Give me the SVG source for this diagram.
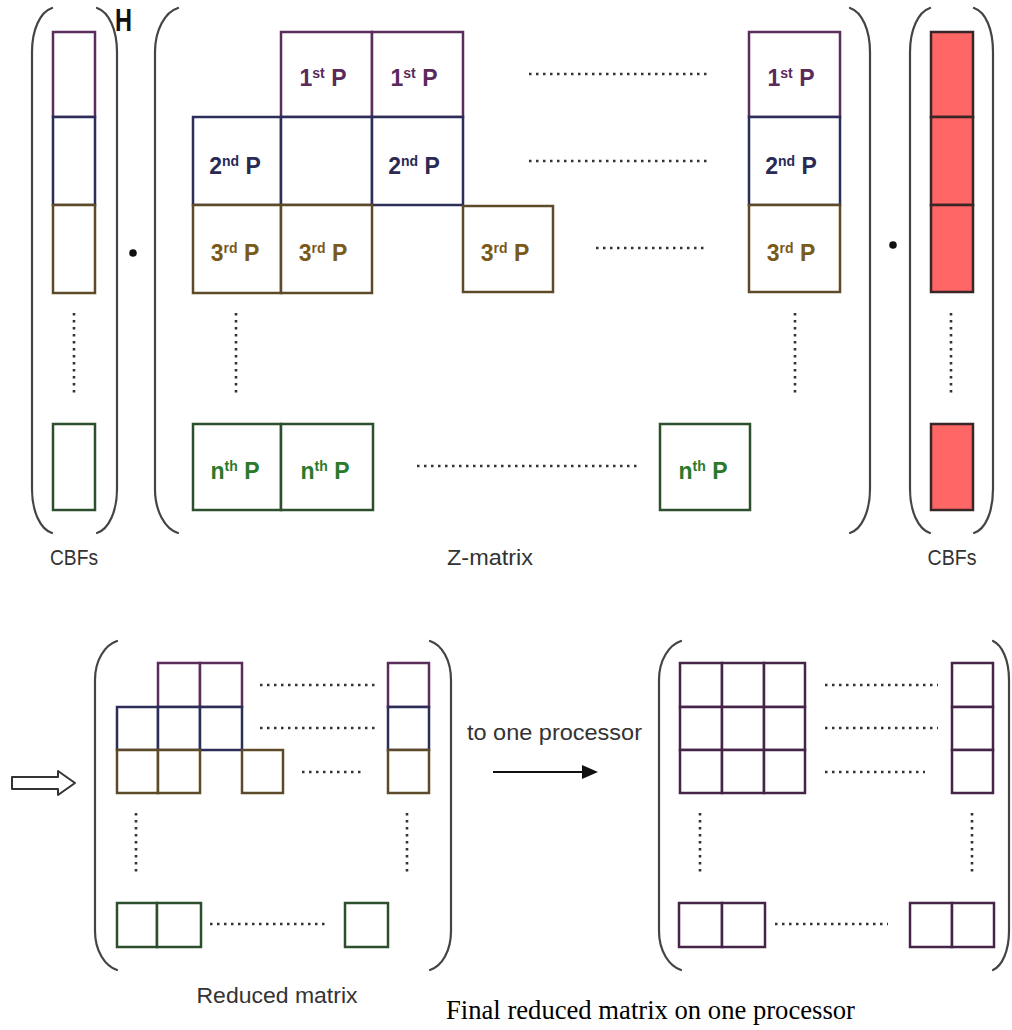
<svg xmlns="http://www.w3.org/2000/svg" width="1012" height="1030" viewBox="0 0 1012 1030">
<defs>
<style>
.paren{fill:none;stroke:#444;stroke-width:2.2;stroke-linecap:round}
.c{fill:#fff;stroke-width:2.5}
.p1{stroke:#5a2d5a}
.p2{stroke:#2d2d5a}
.p3{stroke:#5c4a28}
.pn{stroke:#2d4f2d}
.pf{stroke:#452447}
.red{fill:#ff6666;stroke:#3a2626;stroke-width:2.5}
.dots{fill:none;stroke:#333;stroke-width:2.6;stroke-dasharray:2.5 4.5}
.lbl{font-family:"Liberation Sans",Arial,sans-serif;font-size:22px;fill:#333}
.ct{font-family:"Liberation Sans",Arial,sans-serif;font-size:23px;font-weight:bold;text-anchor:middle}
.t1{fill:#5a2a5a}.t2{fill:#2a2a55}.t3{fill:#7a5a1a}.tn{fill:#2a7a2a}
.sup{font-size:14px}
</style>
</defs>
<rect width="1012" height="1030" fill="#fff"/>

<g id="cbf-left">
<path class="paren" d="M52,8 C40,12 32,30 32,52 L32,489 C32,511 40,529 52,533"/>
<path class="paren" d="M97,8 C109,12 117,30 117,52 L117,489 C117,511 109,529 97,533"/>
<rect class="c p1" x="53" y="32" width="42" height="85"/>
<rect class="c p2" x="53" y="117" width="42" height="88"/>
<rect class="c p3" x="53" y="205" width="42" height="88"/>
<rect class="c pn" x="53" y="424" width="42" height="86"/>
<line class="dots" x1="74" y1="313" x2="74" y2="396"/>
<text class="lbl" x="74" y="565" text-anchor="middle" textLength="48" lengthAdjust="spacingAndGlyphs">CBFs</text>
</g>

<g id="h-label">
<text x="115" y="31" font-family="'Liberation Sans',Arial,sans-serif" font-size="31" font-weight="bold" fill="#111" textLength="17" lengthAdjust="spacingAndGlyphs">H</text>
</g>
<g id="dot-1"><circle cx="133" cy="253" r="3.8" fill="#111"/></g>

<g id="z-matrix">
<path class="paren" d="M178,8 C165,12 155,30 155,52 L155,489 C155,511 165,529 178,533"/>
<path class="paren" d="M850,8 C862,12 870,30 870,52 L870,489 C870,511 862,529 850,533"/>
<rect class="c p1" x="281" y="32" width="91" height="85"/>
<rect class="c p1" x="372" y="32" width="91" height="85"/>
<rect class="c p1" x="749" y="32" width="91" height="85"/>
<rect class="c p2" x="193" y="117" width="88" height="88"/>
<rect class="c p2" x="281" y="117" width="91" height="88"/>
<rect class="c p2" x="372" y="117" width="91" height="88"/>
<rect class="c p2" x="749" y="117" width="91" height="88"/>
<rect class="c p3" x="193" y="205" width="88" height="88"/>
<rect class="c p3" x="281" y="205" width="91" height="88"/>
<rect class="c p3" x="463" y="206" width="90" height="86"/>
<rect class="c p3" x="749" y="205" width="91" height="87"/>
<rect class="c pn" x="193" y="424" width="88" height="86"/>
<rect class="c pn" x="281" y="424" width="92" height="86"/>
<rect class="c pn" x="660" y="424" width="90" height="86"/>
<text class="ct t1" x="323" y="86">1<tspan class="sup" dy="-8">st</tspan><tspan dy="8"> P</tspan></text>
<text class="ct t1" x="414" y="86">1<tspan class="sup" dy="-8">st</tspan><tspan dy="8"> P</tspan></text>
<text class="ct t1" x="791" y="86">1<tspan class="sup" dy="-8">st</tspan><tspan dy="8"> P</tspan></text>
<text class="ct t2" x="235" y="174">2<tspan class="sup" dy="-8">nd</tspan><tspan dy="8"> P</tspan></text>
<text class="ct t2" x="414" y="174">2<tspan class="sup" dy="-8">nd</tspan><tspan dy="8"> P</tspan></text>
<text class="ct t2" x="791" y="174">2<tspan class="sup" dy="-8">nd</tspan><tspan dy="8"> P</tspan></text>
<text class="ct t3" x="235" y="261">3<tspan class="sup" dy="-8">rd</tspan><tspan dy="8"> P</tspan></text>
<text class="ct t3" x="323" y="261">3<tspan class="sup" dy="-8">rd</tspan><tspan dy="8"> P</tspan></text>
<text class="ct t3" x="505" y="261">3<tspan class="sup" dy="-8">rd</tspan><tspan dy="8"> P</tspan></text>
<text class="ct t3" x="791" y="261">3<tspan class="sup" dy="-8">rd</tspan><tspan dy="8"> P</tspan></text>
<text class="ct tn" x="235" y="479">n<tspan class="sup" dy="-8">th</tspan><tspan dy="8"> P</tspan></text>
<text class="ct tn" x="325" y="479">n<tspan class="sup" dy="-8">th</tspan><tspan dy="8"> P</tspan></text>
<text class="ct tn" x="703" y="479">n<tspan class="sup" dy="-8">th</tspan><tspan dy="8"> P</tspan></text>
<line class="dots" x1="529" y1="74" x2="707" y2="74"/>
<line class="dots" x1="529" y1="161" x2="707" y2="161"/>
<line class="dots" x1="596" y1="248" x2="704" y2="248"/>
<line class="dots" x1="417" y1="466" x2="640" y2="466"/>
<line class="dots" x1="236" y1="313" x2="236" y2="396"/>
<line class="dots" x1="795" y1="313" x2="795" y2="396"/>
<text class="lbl" x="490" y="565" text-anchor="middle" textLength="86" lengthAdjust="spacingAndGlyphs">Z-matrix</text>
</g>

<g id="dot-2"><circle cx="893" cy="245" r="3.8" fill="#111"/></g>

<g id="cbf-right">
<path class="paren" d="M930,8 C918,12 910,30 910,52 L910,489 C910,511 918,529 930,533"/>
<path class="paren" d="M974,8 C986,12 993,30 993,52 L993,489 C993,511 986,529 974,533"/>
<rect class="red" x="931" y="32" width="42" height="85"/>
<rect class="red" x="931" y="117" width="42" height="88"/>
<rect class="red" x="931" y="205" width="42" height="87"/>
<rect class="red" x="931" y="424" width="42" height="86"/>
<line class="dots" x1="951" y1="313" x2="951" y2="396"/>
<text class="lbl" x="952" y="565" text-anchor="middle" textLength="49" lengthAdjust="spacingAndGlyphs">CBFs</text>
</g>

<g id="reduced-matrix">
<path class="paren" d="M117,641 C105,645 95,660 95,680 L95,931 C95,951 105,966 117,970"/>
<path class="paren" d="M430,641 C442,645 451,660 451,680 L451,931 C451,951 442,966 430,970"/>
<rect class="c p1" x="158" y="663" width="42" height="44"/>
<rect class="c p1" x="200" y="663" width="42" height="44"/>
<rect class="c p1" x="388" y="663" width="41" height="44"/>
<rect class="c p2" x="117" y="707" width="41" height="43"/>
<rect class="c p2" x="158" y="707" width="42" height="43"/>
<rect class="c p2" x="200" y="707" width="42" height="43"/>
<rect class="c p2" x="388" y="707" width="41" height="43"/>
<rect class="c p3" x="117" y="750" width="41" height="43"/>
<rect class="c p3" x="158" y="750" width="42" height="43"/>
<rect class="c p3" x="242" y="750" width="41" height="43"/>
<rect class="c p3" x="388" y="750" width="41" height="43"/>
<rect class="c pn" x="117" y="903" width="40" height="44"/>
<rect class="c pn" x="157" y="903" width="44" height="44"/>
<rect class="c pn" x="345" y="903" width="43" height="44"/>
<line class="dots" x1="260" y1="685" x2="375" y2="685"/>
<line class="dots" x1="260" y1="728" x2="375" y2="728"/>
<line class="dots" x1="302" y1="772" x2="362" y2="772"/>
<line class="dots" x1="210" y1="924" x2="325" y2="924"/>
<line class="dots" x1="136" y1="813" x2="136" y2="876"/>
<line class="dots" x1="407" y1="813" x2="407" y2="876"/>
<text class="lbl" x="277" y="1003" text-anchor="middle" font-size="22" textLength="161" lengthAdjust="spacingAndGlyphs">Reduced matrix</text>
</g>

<g id="final-matrix">
<path class="paren" d="M681,641 C669,645 659,660 659,680 L659,931 C659,951 669,966 681,970"/>
<path class="paren" d="M993,641 C1002,645 1009,660 1009,680 L1009,931 C1009,951 1002,966 993,970"/>
<rect class="c pf" x="680" y="663" width="42" height="44"/>
<rect class="c pf" x="722" y="663" width="42" height="44"/>
<rect class="c pf" x="764" y="663" width="41" height="44"/>
<rect class="c pf" x="680" y="707" width="42" height="43"/>
<rect class="c pf" x="722" y="707" width="42" height="43"/>
<rect class="c pf" x="764" y="707" width="41" height="43"/>
<rect class="c pf" x="680" y="750" width="42" height="43"/>
<rect class="c pf" x="722" y="750" width="42" height="43"/>
<rect class="c pf" x="764" y="750" width="41" height="43"/>
<rect class="c pf" x="952" y="663" width="41" height="44"/>
<rect class="c pf" x="952" y="707" width="41" height="43"/>
<rect class="c pf" x="952" y="750" width="41" height="43"/>
<rect class="c pf" x="679" y="903" width="43" height="44"/>
<rect class="c pf" x="722" y="903" width="43" height="44"/>
<rect class="c pf" x="910" y="903" width="42" height="44"/>
<rect class="c pf" x="952" y="903" width="42" height="44"/>
<line class="dots" x1="825" y1="685" x2="938" y2="685"/>
<line class="dots" x1="825" y1="728" x2="938" y2="728"/>
<line class="dots" x1="825" y1="772" x2="925" y2="772"/>
<line class="dots" x1="775" y1="924" x2="888" y2="924"/>
<line class="dots" x1="700" y1="813" x2="700" y2="876"/>
<line class="dots" x1="972" y1="813" x2="972" y2="876"/>
</g>

<g id="connectors">
<polygon points="12,777 58,777 58,771 75,783 58,795 58,789 12,789" fill="#fff" stroke="#333" stroke-width="2" stroke-linejoin="round"/>
<line x1="493" y1="772" x2="584" y2="772" stroke="#111" stroke-width="2"/>
<polygon points="582,765 598,772 582,779" fill="#111"/>
<text class="lbl" x="467" y="740" font-size="23" fill="#222" textLength="175" lengthAdjust="spacingAndGlyphs">to one processor</text>
</g>

<g id="caption">
<text x="446" y="1019" font-family="'Liberation Serif','Times New Roman',serif" font-size="26.5" fill="#000" textLength="409" lengthAdjust="spacingAndGlyphs">Final reduced matrix on one processor</text>
</g>
</svg>
